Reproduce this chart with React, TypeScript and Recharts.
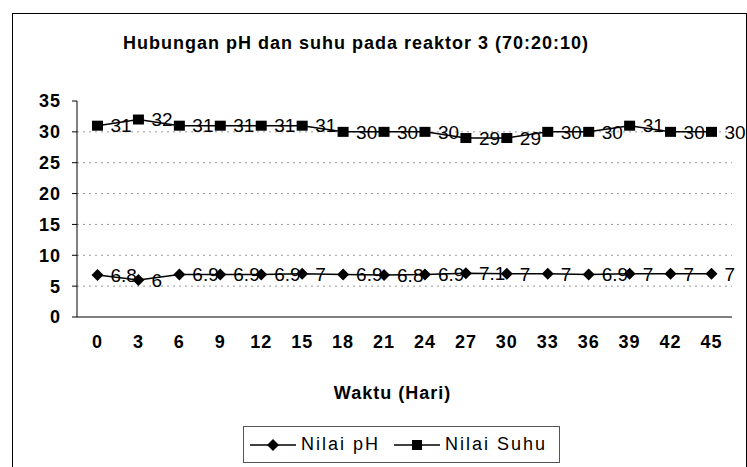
import { LineChart, Line, XAxis, YAxis, CartesianGrid, Legend, LabelList } from 'recharts';

const days = [0, 3, 6, 9, 12, 15, 18, 21, 24, 27, 30, 33, 36, 39, 42, 45];
const phValues = [6.8, 6, 6.9, 6.9, 6.9, 7, 6.9, 6.8, 6.9, 7.1, 7, 7, 6.9, 7, 7, 7];
const suhuValues = [31, 32, 31, 31, 31, 31, 30, 30, 30, 29, 29, 30, 30, 31, 30, 30];
const yTicks = [0, 5, 10, 15, 20, 25, 30, 35];
const gridValues = [5, 10, 15, 20, 25, 30];
const seriesNames = ['Nilai pH', 'Nilai Suhu'];
const seriesShapes = ['diamond', 'square'];

const data = days.map((d, i) => ({ day: d, ph: phValues[i], suhu: suhuValues[i] }));

const FONT = '"Liberation Sans", Arial, sans-serif';

const Diamond = (props: any) => {
  const { cx, cy } = props;
  if (cx == null || cy == null) return null;
  return <path d={`M${cx} ${cy - 6}L${cx + 6} ${cy}L${cx} ${cy + 6}L${cx - 6} ${cy}Z`} fill="#000" />;
};

const Square = (props: any) => {
  const { cx, cy } = props;
  if (cx == null || cy == null) return null;
  return <rect x={cx - 5.5} y={cy - 5} width={11} height={10} fill="#000" />;
};

const LegendIcon = ({ shape }: { shape: string }) => (
  <svg width={46} height={14} style={{ display: 'block', flex: 'none' }}>
    <line x1={0} y1={7} x2={46} y2={7} stroke="#000" strokeWidth={1.5} />
    {shape === 'diamond' ? (
      <path d="M23 1L29 7L23 13L17 7Z" fill="#000" />
    ) : (
      <rect x={18} y={2} width={10} height={10} fill="#000" />
    )}
  </svg>
);

const renderLegend = () => (
  <div
    style={{
      display: 'flex',
      alignItems: 'center',
      height: '100%',
      boxSizing: 'border-box',
      border: '1px solid #555',
      padding: '0 6px',
      fontFamily: FONT,
      fontSize: 18,
      letterSpacing: 2,
      color: '#000',
      whiteSpace: 'nowrap',
    }}
  >
    {seriesNames.map((name, i) => (
      <div key={name} style={{ display: 'flex', alignItems: 'center', marginRight: i === 0 ? 14 : 0 }}>
        <LegendIcon shape={seriesShapes[i]} />
        <span style={{ marginLeft: 5 }}>{name}</span>
      </div>
    ))}
  </div>
);

export default function App() {
  return (
    <div style={{ position: 'absolute', left: 0, top: 0, width: 747, height: 467, background: '#fff', overflow: 'hidden' }}>
      <div
        style={{
          position: 'absolute',
          left: 12,
          top: 13,
          width: 733,
          height: 470,
          borderLeft: '1.5px solid #000',
          borderTop: '1.5px solid #000',
          borderRight: '1.5px solid #000',
        }}
      />
      <div
        style={{
          position: 'absolute',
          left: 0,
          top: 33,
          width: 712,
          textAlign: 'center',
          fontFamily: FONT,
          fontWeight: 'bold',
          fontSize: 18,
          letterSpacing: 1,
          lineHeight: '20px',
          color: '#000',
        }}
      >
        Hubungan pH dan suhu pada reaktor 3 (70:20:10)
      </div>
      <LineChart
        width={747}
        height={467}
        data={data}
        margin={{ top: 101, right: 15, left: 30, bottom: 60 }}
        style={{ position: 'absolute', left: 0, top: 0, fontFamily: FONT }}
      >
        <CartesianGrid vertical={false} horizontalValues={gridValues} stroke="#999" strokeDasharray="2 4" />
        <XAxis
          dataKey="day"
          type="category"
          padding={{ left: 20.5, right: 20.5 }}
          height={90}
          axisLine={{ stroke: '#000' }}
          tickLine={false}
          tickMargin={12}
          tick={{ fill: '#000', fontSize: 18, fontWeight: 'bold', letterSpacing: 1 }}
          interval={0}
          label={{
            value: 'Waktu (Hari)',
            position: 'insideBottom',
            offset: 8,
            dx: -12,
            fill: '#000',
            fontSize: 18,
            fontWeight: 'bold',
            letterSpacing: 1,
          }}
        />
        <YAxis
          domain={[0, 35]}
          ticks={yTicks}
          width={47}
          axisLine={{ stroke: '#000' }}
          tickLine={{ stroke: '#000' }}
          tickSize={5}
          tickMargin={11}
          tick={{ fill: '#000', fontSize: 18, fontWeight: 'bold', letterSpacing: 1 }}
        />
        <Legend
          layout="horizontal"
          verticalAlign="middle"
          align="center"
          content={renderLegend}
          wrapperStyle={{ left: 243, top: 426, width: 317, height: 37 }}
        />
        <Line
          dataKey="ph"
          name={seriesNames[0]}
          stroke="#000"
          strokeWidth={1.5}
          dot={<Diamond />}
          activeDot={false}
          isAnimationActive={false}
        >
          <LabelList dataKey="ph" position="right" offset={13} fill="#000" fontSize={19} />
        </Line>
        <Line
          dataKey="suhu"
          name={seriesNames[1]}
          stroke="#000"
          strokeWidth={1.5}
          dot={<Square />}
          activeDot={false}
          isAnimationActive={false}
        >
          <LabelList dataKey="suhu" position="right" offset={13} fill="#000" fontSize={19} />
        </Line>
      </LineChart>
    </div>
  );
}
